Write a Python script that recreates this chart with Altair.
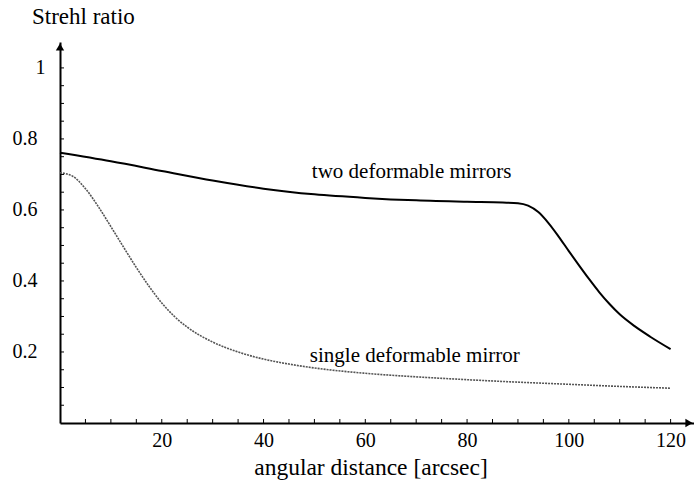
import altair as alt
import pandas as pd

# Two deformable mirrors (solid black)
two_x = [0, 10, 20, 30, 40, 50, 60, 70, 80, 87, 90, 92, 94, 96, 98, 100, 102, 104, 106, 108, 110, 113, 116, 120]
two_y = [0.761, 0.737, 0.710, 0.683, 0.660, 0.644, 0.634, 0.627, 0.623, 0.621, 0.619, 0.612, 0.594, 0.563, 0.525, 0.484, 0.444, 0.405, 0.368, 0.335, 0.306, 0.272, 0.243, 0.208]

# Single deformable mirror (grey dotted)
one_x = [0, 2.5, 5, 7.5, 10, 12.5, 15, 17.5, 20, 22.5, 25, 30, 35, 40, 45, 50, 60, 70, 80, 90, 100, 110, 120]
one_y = [0.705, 0.695, 0.660, 0.610, 0.553, 0.495, 0.438, 0.385, 0.338, 0.300, 0.270, 0.228, 0.200, 0.180, 0.166, 0.155, 0.140, 0.130, 0.122, 0.115, 0.109, 0.103, 0.098]

x_labels = [20, 40, 60, 80, 100, 120]
y_labels = [0.2, 0.4, 0.6, 0.8, 1.0]
x_minor = [5, 10, 15, 20, 25, 30, 35, 40, 45, 50, 55, 60, 65, 70, 75, 80, 85, 90, 95, 100, 105, 110, 115, 120]
y_minor = [0.05, 0.1, 0.15, 0.2, 0.25, 0.3, 0.35, 0.4, 0.45, 0.5, 0.55, 0.6, 0.65, 0.7, 0.75, 0.8, 0.85, 0.9, 0.95, 1.0]

notes_text = ["two deformable mirrors", "single deformable mirror"]
notes_x = [49.5, 49.1]
notes_y = [0.690, 0.173]

FONT = "Liberation Serif, Times New Roman, Times, serif"
W, H = 634, 381
XMAX, YMAX = 124.6, 1.073

xs = alt.Scale(domain=[0, XMAX], nice=False, zero=False)
ys = alt.Scale(domain=[0, YMAX], nice=False, zero=False)

df_two = pd.DataFrame({"x": two_x, "y": two_y})
df_one = pd.DataFrame({"x": one_x, "y": one_y})

x_axis = alt.Axis(values=x_labels, ticks=False, grid=False, domainColor="black", domainWidth=2,
                  labelFont=FONT, labelFontSize=20, labelColor="black", labelPadding=7,
                  title=None)
y_axis = alt.Axis(values=y_labels, ticks=False, grid=False, domainColor="black", domainWidth=2,
                  labelFont=FONT, labelFontSize=20, labelColor="black",
                  labelPadding={"condition": {"test": "datum.value == 1", "value": 15}, "value": 23},
                  labelExpr="datum.value == 1 ? '1' : format(datum.value, '.1f')",
                  title=None)

two = alt.Chart(df_two).mark_line(color="black", strokeWidth=2, interpolate="monotone").encode(
    x=alt.X("x:Q", scale=xs, axis=x_axis),
    y=alt.Y("y:Q", scale=ys, axis=y_axis),
)
one = alt.Chart(df_one).mark_line(color="#555555", strokeWidth=1.6, strokeDash=[2, 1], interpolate="monotone").encode(
    x=alt.X("x:Q", scale=xs),
    y=alt.Y("y:Q", scale=ys),
)

xt = alt.Chart(pd.DataFrame({"v": x_minor})).mark_rule(color="black", strokeWidth=1).encode(
    x=alt.X("v:Q", scale=xs), y=alt.value(H), y2=alt.value(H - 4)
)
yt = alt.Chart(pd.DataFrame({"v": y_minor})).mark_rule(color="black", strokeWidth=1).encode(
    y=alt.Y("v:Q", scale=ys), x=alt.value(0), x2=alt.value(4)
)

arrow_up = alt.Chart(pd.DataFrame({"a": [1]})).mark_point(shape="triangle-up", filled=True, color="black", size=70, opacity=1).encode(
    x=alt.value(0), y=alt.value(5)
)
arrow_right = alt.Chart(pd.DataFrame({"a": [1]})).mark_point(shape="triangle-right", filled=True, color="black", size=70, opacity=1).encode(
    x=alt.value(W - 5), y=alt.value(H)
)

notes = alt.Chart(pd.DataFrame({"t": notes_text, "x": notes_x, "y": notes_y})).mark_text(
    font=FONT, fontSize=21, align="left", baseline="alphabetic", color="black"
).encode(x=alt.X("x:Q", scale=xs), y=alt.Y("y:Q", scale=ys), text="t:N")

ytitle = alt.Chart(pd.DataFrame({"t": ["Strehl ratio"]})).mark_text(
    font=FONT, fontSize=23, align="left", baseline="alphabetic", color="black"
).encode(x=alt.value(-28), y=alt.value(-18), text="t:N")

xtitle = alt.Chart(pd.DataFrame({"t": ["angular distance [arcsec]"]})).mark_text(
    font=FONT, fontSize=23.5, align="center", baseline="alphabetic", color="black"
).encode(x=alt.value(311), y=alt.value(H + 52), text="t:N")

chart = alt.layer(two, one, xt, yt, arrow_up, arrow_right, notes, ytitle, xtitle).properties(
    width=W, height=H,
    background="white",
    autosize=alt.AutoSizeParams(type="none"),
    padding={"left": 60, "top": 42, "right": 0, "bottom": 60},
).configure_view(stroke=None)

chart.save("out.html", embed_options={"renderer": "svg", "actions": False})
